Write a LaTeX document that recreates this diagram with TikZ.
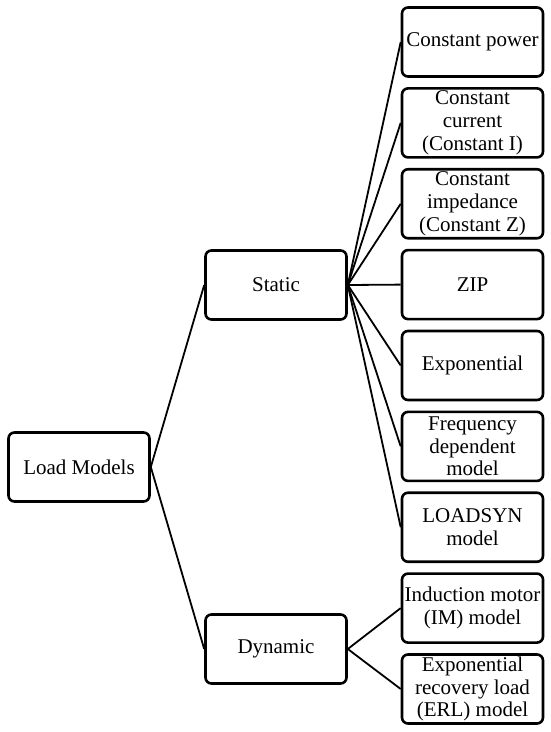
\documentclass[tikz,border=0pt]{standalone}
\usepackage{fontspec}
\setmainfont{Liberation Serif}
\begin{document}
\begin{tikzpicture}[x=1pt,y=-1pt,
  box/.style={draw=black,line width=2.6pt,rounded corners=6pt,minimum width=141pt,minimum height=69pt,align=center,inner sep=1pt,font=\fontsize{21}{22.8}\selectfont},
  conn/.style={line width=1.8pt}]
\useasboundingbox (0,0) rectangle (550,732);
\node[box] (load) at (79,467) {Load Models};
\node[box] (static) at (276,285) {Static};
\node[box] (dynamic) at (276,649) {Dynamic};
\node[box] (c1) at (472.5,42) {Constant power};
\node[box] (c2) at (472.5,122.9) {Constant\\current\\(Constant I)};
\node[box] (c3) at (472.5,203.75) {Constant\\impedance\\(Constant Z)};
\node[box] (c4) at (472.5,284.6) {ZIP};
\node[box] (c5) at (472.5,365.5) {Exponential};
\node[box] (c6) at (472.5,446.4) {Frequency\\dependent\\model};
\node[box] (c7) at (472.5,527.25) {LOADSYN\\model};
\node[box] (d1) at (472.5,608.1) {Induction motor\\(IM) model};
\node[box] (d2) at (472.5,689) {Exponential\\recovery load\\(ERL) model};
\draw[conn] (load.east) -- (static.west);
\draw[conn] (load.east) -- (dynamic.west);
\foreach \n in {c1,c2,c3,c4,c5,c6,c7} \draw[conn] (static.east) -- (\n.west);
\foreach \n in {d1,d2} \draw[conn] (dynamic.east) -- (\n.west);
\end{tikzpicture}
\end{document}
